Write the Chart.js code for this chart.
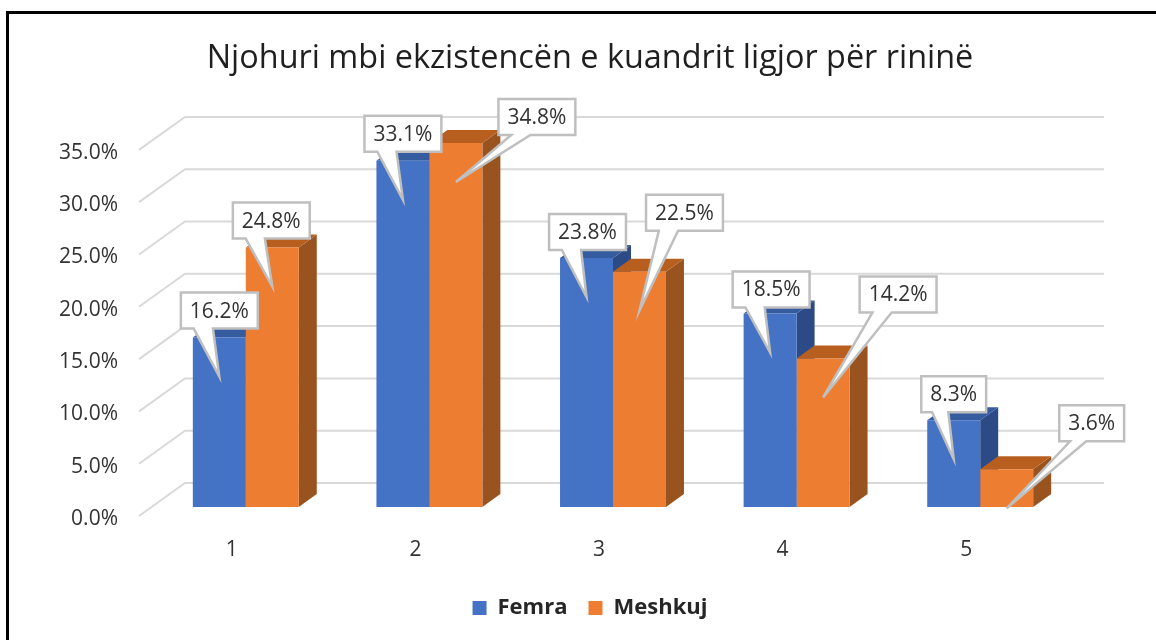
<!DOCTYPE html>
<html>
<head>
<meta charset="utf-8">
<script src="https://cdn.jsdelivr.net/npm/chart.js@4/dist/chart.umd.min.js"></script>
<style>
  html, body { margin: 0; background: #fff; }
  #wrap { position: relative; width: 1156px; height: 640px; overflow: hidden; }
  #frame { position: absolute; left: 6px; top: 11px; width: 1200px; height: 700px; border: 3px solid #000; box-sizing: border-box; }
  canvas { position: absolute; left: 0; top: 0; }
</style>
</head>
<body>
<div id="wrap">
  <div id="frame"></div>
  <canvas id="myChart" width="1156" height="640"></canvas>
</div>
<script>
const titleText = 'Njohuri mbi ekzistencën e kuandrit ligjor për rininë';
const categories = ['1', '2', '3', '4', '5'];
const femra = [16.2, 33.1, 23.8, 18.5, 8.3];
const meshkuj = [24.8, 34.8, 22.5, 14.2, 3.6];

// where each callout box sits, relative to the top centre of its bar
const femraCallouts = [[0, -27], [0, -27], [1, -26], [1, -24], [0, -26]];
const meshkujCallouts = [[-1, -27], [81, -26], [45, -59], [75, -64], [85, -46]];

const FONT = '"Open Sans"';
const BAR_DX = 18, BAR_DY = 13;    // depth of the 3d bars
const LIFT_X = 14, LIFT_Y = 9;     // bars stand further back than the front floor edge
const WALL_DX = 46, WALL_DY = 33;  // depth of the back wall
const TICK_NUDGE = 3;              // open sans digits sit high on the middle baseline

function poly(ctx, pts, color) {
    ctx.fillStyle = color;
    ctx.beginPath();
    pts.forEach((p, i) => i ? ctx.lineTo(p[0], p[1]) : ctx.moveTo(p[0], p[1]));
    ctx.closePath();
    ctx.fill();
}

const walls = {
    id: 'walls',
    afterLayout(chart) {
        chart.scales.y.getLabelItems().forEach((it) => {
            it.options.translation[1] += TICK_NUDGE;
        });
    },
    beforeDatasetsDraw(chart) {
        const { ctx, chartArea, scales } = chart;
        ctx.save();
        ctx.strokeStyle = '#d9d9d9';
        ctx.lineWidth = 2;
        scales.y.ticks.forEach((t) => {
            const y = scales.y.getPixelForValue(t.value);
            ctx.beginPath();
            ctx.moveTo(chartArea.left - 1, y);
            ctx.lineTo(chartArea.left - 1 + WALL_DX, y - WALL_DY);
            ctx.lineTo(chartArea.right + WALL_DX, y - WALL_DY);
            ctx.stroke();
        });
        ctx.restore();

        // everything from here up to afterDatasetsDraw is moved back onto the floor
        ctx.save();
        ctx.translate(LIFT_X, -LIFT_Y);
        const sides = [
            { side: '#2c4a85', top: '#355c9e' },
            { side: '#98531e', top: '#b85f20' }
        ];
        categories.forEach((c, i) => {
            sides.forEach((s, d) => {
                const b = chart.getDatasetMeta(d).data[i];
                const l = b.x - b.width / 2, r = b.x + b.width / 2;
                poly(ctx, [[r, b.y], [r + BAR_DX, b.y - BAR_DY], [r + BAR_DX, b.base - BAR_DY], [r, b.base]], s.side);
                poly(ctx, [[l, b.y], [r, b.y], [r + BAR_DX, b.y - BAR_DY], [l + BAR_DX, b.y - BAR_DY]], s.top);
            });
        });
    },
    afterDatasetsDraw(chart) {
        chart.ctx.restore();
    }
};

const callouts = {
    id: 'callouts',
    afterDraw(chart) {
        const ctx = chart.ctx;
        ctx.save();
        ctx.font = '21px ' + FONT;
        ctx.textAlign = 'center';
        ctx.textBaseline = 'middle';
        const list = [];
        chart.data.datasets.forEach((ds, d) => {
            const offs = d === 0 ? femraCallouts : meshkujCallouts;
            ds.data.forEach((v, i) => list.push({ v, b: chart.getDatasetMeta(d).data[i], o: offs[i] }));
        });
        list.forEach(({ v, b, o }) => {
            const barX = b.x + LIFT_X, top = b.y - LIFT_Y;
            const text = v.toFixed(1) + '%';
            const w = ctx.measureText(text).width + 18, h = 36;
            const cx = barX + o[0], cy = top + o[1];
            const l = cx - w / 2, t = cy - h / 2, r = cx + w / 2, bt = cy + h / 2;
            ctx.beginPath();
            ctx.moveTo(l, t);
            ctx.lineTo(r, t);
            ctx.lineTo(r, bt);
            ctx.lineTo(l + w * 0.4167, bt);
            ctx.lineTo(barX, top + 39);
            ctx.lineTo(l + w * 0.1667, bt);
            ctx.lineTo(l, bt);
            ctx.closePath();
            ctx.fillStyle = '#fff';
            ctx.strokeStyle = '#bfbfbf';
            ctx.lineWidth = 2.5;
            ctx.lineJoin = 'miter';
            ctx.fill();
            ctx.stroke();
            ctx.fillStyle = '#333';
            ctx.fillText(text, cx, cy + 1);
        });
        ctx.restore();
    }
};

new Chart(document.querySelector('#myChart'), {
    type: 'bar',
    data: {
        labels: categories,
        datasets: [
            { label: 'Femra', data: femra, backgroundColor: '#4472c4', categoryPercentage: 0.577, barPercentage: 1 },
            { label: 'Meshkuj', data: meshkuj, backgroundColor: '#ed7d31', categoryPercentage: 0.577, barPercentage: 1 }
        ]
    },
    options: {
        responsive: false,
        animation: false,
        layout: { padding: { left: 24, top: 39, bottom: 11 } },
        plugins: {
            title: {
                display: true,
                text: titleText,
                color: '#1f1f1f',
                font: { family: FONT, size: 32.4, weight: 'normal' },
                padding: { top: 0, bottom: 72 }
            },
            legend: {
                position: 'bottom',
                labels: {
                    boxWidth: 14,
                    boxHeight: 14,
                    color: '#262626',
                    padding: 21,
                    font: { family: FONT, size: 22, weight: 'bold' }
                }
            },
            tooltip: { enabled: false }
        },
        scales: {
            x: {
                afterFit(s) { s.height = 60; },
                grid: { display: false, drawTicks: false },
                border: { display: false },
                ticks: { color: '#333', padding: 21, font: { family: FONT, size: 21 } }
            },
            y: {
                min: 0,
                max: 35,
                afterFit(s) { s.width = 116; },
                grid: { display: false, drawTicks: false },
                border: { display: false },
                ticks: {
                    stepSize: 5,
                    color: '#333',
                    padding: 22,
                    font: { family: FONT, size: 21 },
                    callback: (v) => v.toFixed(1) + '%'
                }
            },
            spacer: {
                position: 'right',
                afterFit(s) { s.width = 98; },
                grid: { display: false, drawTicks: false },
                border: { display: false },
                ticks: { display: false }
            }
        }
    },
    plugins: [walls, callouts]
});
</script>
</body>
</html>
